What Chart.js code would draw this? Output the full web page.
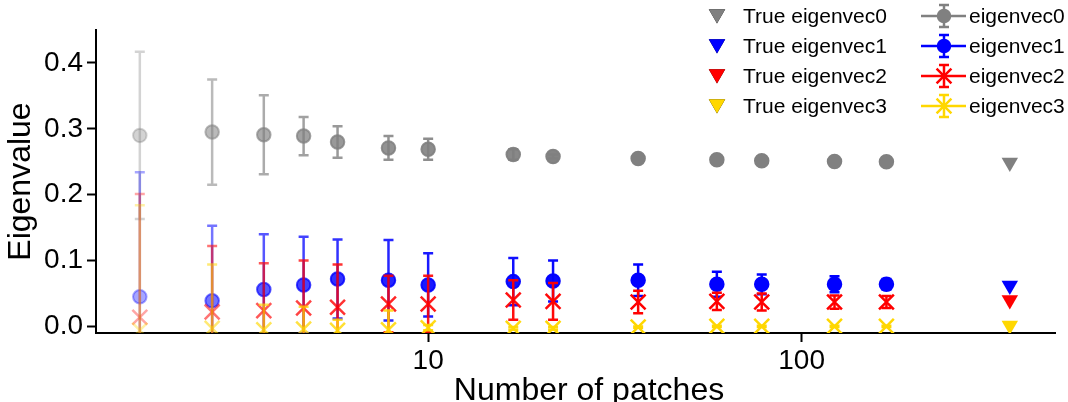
<!DOCTYPE html>
<html>
<head>
<meta charset="utf-8">
<script src="https://cdn.jsdelivr.net/npm/chart.js@4.4.1/dist/chart.umd.min.js"></script>
<style>
  html, body { margin: 0; padding: 0; background: #fff; overflow: hidden; }
  canvas { display: block; }
</style>
</head>
<body>
<canvas id="eigChart" width="1068" height="402"></canvas>
<script>
"use strict";

// number of patches used for each estimate
var patches = [1.69, 2.64, 3.63, 4.64, 5.72, 7.83, 10, 16.9, 21.6, 36.5, 59.3, 78.2, 122.5, 168.7];
// where the true eigenvalues are shown
var truePatches = [361];

// estimated eigenvalues (mean) and error (+/-)
var mean0 = [0.290, 0.295, 0.291, 0.289, 0.280, 0.271, 0.269, 0.261, 0.258, 0.255, 0.253, 0.2515, 0.2505, 0.250];
var err0  = [0.127, 0.080, 0.060, 0.029, 0.024, 0.018, 0.016, 0.008, 0.003, 0.002, 0.002, 0.002, 0.001, 0.001];
var mean1 = [0.045, 0.039, 0.056, 0.063, 0.072, 0.070, 0.063, 0.068, 0.069, 0.070, 0.064, 0.064, 0.064, 0.064];
var err1  = [0.189, 0.114, 0.084, 0.073, 0.060, 0.061, 0.048, 0.036, 0.031, 0.024, 0.019, 0.015, 0.012, 0.008];
var mean2 = [0.014, 0.022, 0.024, 0.028, 0.029, 0.034, 0.034, 0.040, 0.038, 0.037, 0.038, 0.037, 0.037, 0.037];
var err2  = [0.187, 0.100, 0.072, 0.072, 0.065, 0.043, 0.043, 0.030, 0.028, 0.017, 0.013, 0.013, 0.010, 0.009];
var mean3 = [-0.006, -0.003, -0.005, -0.004, -0.006, -0.005, -0.002, -0.003, -0.003, -0.001, 0.000, 0.000, 0.000, 0.000];
var err3  = [0.190, 0.097, 0.038, 0.034, 0.016, 0.029, 0.004, 0.002, 0.002, 0.001, 0.001, 0.001, 0.001, 0.001];

// true eigenvalues
var trueVals = [0.249, 0.062, 0.040, 0.0015];

var names = ['eigenvec0', 'eigenvec1', 'eigenvec2', 'eigenvec3'];
var xTicks = [10, 100];
var yTicks = [0.0, 0.1, 0.2, 0.3, 0.4];

var rgbs = ['128,128,128', '0,0,255', '255,0,0', '255,215,0'];
var FONT = '"Liberation Sans", Arial, sans-serif';

Chart.defaults.font.family = FONT;
Chart.defaults.color = '#000';

// fewer patches -> more transparent marks
function fade(i) {
  return Math.min(1, 0.35 + 0.65 * Math.log(i + 1) / Math.log(10));
}
function rgba(rgb, a) { return 'rgba(' + rgb + ',' + a + ')'; }

function points(xs, ys) {
  return xs.map(function(x, i) { return {x: x, y: ys[i]}; });
}

var means = [mean0, mean1, mean2, mean3];
var errs = [err0, err1, err2, err3];
var styles = ['circle', 'circle', 'crossRot', 'crossRot'];

var datasets = [];
means.forEach(function(m, k) {
  var rgb = rgbs[k];
  var cross = styles[k] === 'crossRot';
  datasets.push({
    label: names[k],
    data: points(patches, m),
    errors: errs[k],
    rgb: rgb,
    kind: 'est',
    order: 10 - k,
    clip: 0,
    pointStyle: styles[k],
    pointRadius: cross ? 10.5 : 6.75,
    pointBorderWidth: cross ? 2.5 : 2,
    pointBackgroundColor: function(c) { return rgba(rgb, fade(c.dataIndex)); },
    pointBorderColor: function(c) { return rgba(rgb, fade(c.dataIndex)); }
  });
});
trueVals.forEach(function(v, k) {
  datasets.push({
    label: 'True ' + names[k],
    data: points(truePatches, [v]),
    rgb: rgbs[k],
    kind: 'true',
    order: 4 - k,
    clip: 0,
    pointStyle: 'triangle',
    rotation: 180,
    pointRadius: 9.5,
    pointBorderWidth: 0,
    pointBackgroundColor: rgba(rgbs[k], 1),
    pointBorderColor: rgba(rgbs[k], 1)
  });
});

// vertical error bars with caps, drawn just under each dataset's markers
var errorBars = {
  id: 'errorBars',
  beforeDatasetDraw: function(chart, args) {
    var ds = chart.data.datasets[args.index];
    if (!ds.errors) return;
    var ctx = chart.ctx, area = chart.chartArea;
    var xs = chart.scales.x, ys = chart.scales.y;
    ctx.save();
    ctx.beginPath();
    ctx.rect(area.left, area.top, area.right - area.left, area.bottom - area.top);
    ctx.clip();
    ctx.lineWidth = 2.5;
    ds.data.forEach(function(p, i) {
      var px = xs.getPixelForValue(p.x);
      var top = ys.getPixelForValue(p.y + ds.errors[i]);
      var bot = ys.getPixelForValue(p.y - ds.errors[i]);
      ctx.strokeStyle = rgba(ds.rgb, fade(i));
      ctx.beginPath();
      ctx.moveTo(px, top); ctx.lineTo(px, bot);
      ctx.moveTo(px - 5, top); ctx.lineTo(px + 5, top);
      ctx.moveTo(px - 5, bot); ctx.lineTo(px + 5, bot);
      ctx.stroke();
    });
    ctx.restore();
  }
};

// two column legend in the upper right corner, plus the x axis title
var cornerLegend = {
  id: 'cornerLegend',
  afterDraw: function(chart) {
    var ctx = chart.ctx;
    var rows = [16, 46, 76, 106];
    var all = chart.data.datasets;
    var trues = all.filter(function(d) { return d.kind === 'true'; });
    var ests = all.filter(function(d) { return d.kind === 'est'; });
    ctx.save();
    ctx.font = '21px ' + FONT;
    ctx.textBaseline = 'middle';
    ctx.textAlign = 'left';
    trues.forEach(function(d, i) {
      var y = rows[i];
      Chart.helpers.drawPoint(ctx, {
        pointStyle: 'triangle', rotation: 180, radius: 9.5, borderWidth: 0
      }, 717, y - 2);
      ctx.fillStyle = rgba(d.rgb, 1);
      ctx.fill();
      ctx.fillStyle = '#000';
      ctx.fillText(d.label, 743, y + 1);
    });
    ests.forEach(function(d, i) {
      var y = rows[i];
      var col = rgba(d.rgb, 1);
      ctx.strokeStyle = col;
      ctx.lineWidth = 2.5;
      ctx.beginPath();
      ctx.moveTo(921, y); ctx.lineTo(966, y);
      ctx.moveTo(944, y - 11); ctx.lineTo(944, y + 11);
      ctx.moveTo(939, y - 11); ctx.lineTo(949, y - 11);
      ctx.moveTo(939, y + 11); ctx.lineTo(949, y + 11);
      ctx.stroke();
      ctx.fillStyle = col;
      var cross = d.pointStyle === 'crossRot';
      Chart.helpers.drawPoint(ctx, {
        pointStyle: d.pointStyle, rotation: 0,
        radius: cross ? 10.5 : 6, borderWidth: cross ? 2.5 : 2
      }, 944, y);
      ctx.fillStyle = '#000';
      ctx.fillText(d.label, 969, y + 1);
    });

    ctx.font = '32px ' + FONT;
    ctx.textAlign = 'center';
    ctx.textBaseline = 'alphabetic';
    ctx.fillText('Number of patches', 589, 400);
    ctx.restore();
  }
};

var chart = new Chart(document.getElementById('eigChart'), {
  type: 'scatter',
  data: { datasets: datasets },
  plugins: [errorBars, cornerLegend],
  options: {
    responsive: false,
    animation: false,
    devicePixelRatio: 1,
    layout: { padding: { top: 30, right: 10, left: 0, bottom: 0 } },
    plugins: {
      legend: { display: false },
      tooltip: { enabled: false }
    },
    scales: {
      x: {
        type: 'logarithmic',
        min: 1.29,
        max: 477,
        afterFit: function(s) { s.height = 69; },
        afterBuildTicks: function(s) {
          s.ticks = xTicks.map(function(v) { return {value: v}; });
        },
        ticks: {
          font: { size: 28 },
          padding: 2,
          maxRotation: 0,
          callback: function(v) { return String(v); }
        },
        grid: {
          drawOnChartArea: false,
          tickLength: 9,
          tickWidth: 2,
          tickColor: '#000'
        },
        border: { display: true, color: '#000', width: 2 },
        title: { display: false }
      },
      y: {
        min: -0.010,
        max: 0.45,
        afterFit: function(s) { s.width = 96; },
        afterBuildTicks: function(s) {
          s.ticks = yTicks.map(function(v) { return {value: v}; });
        },
        ticks: {
          font: { size: 28 },
          padding: 4,
          callback: function(v) { return v.toFixed(1); }
        },
        grid: {
          drawOnChartArea: false,
          tickLength: 9,
          tickWidth: 2,
          tickColor: '#000'
        },
        border: { display: true, color: '#000', width: 2 },
        title: {
          display: true,
          text: 'Eigenvalue',
          font: { size: 32 },
          padding: { top: 2, bottom: 0 }
        }
      }
    }
  }
});
</script>
</body>
</html>
